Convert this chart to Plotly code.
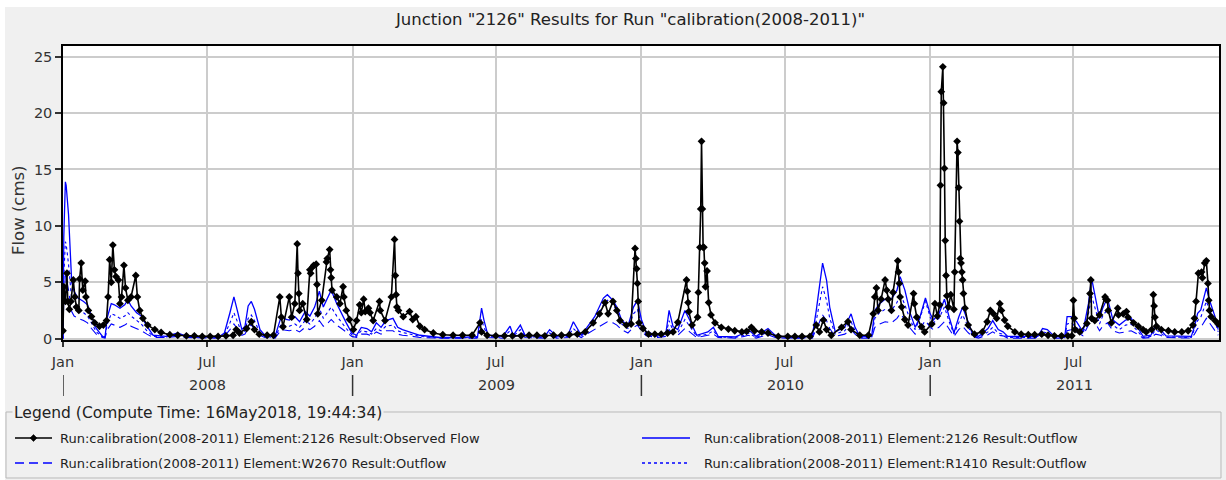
import plotly.graph_objects as go

# ---------------- data ----------------
obs_dates = [
    "2008-01-01", "2008-01-02", "2008-01-04", "2008-01-06", "2008-01-07", "2008-01-09", "2008-01-11",
    "2008-01-14", "2008-01-16", "2008-01-18", "2008-01-21", "2008-01-22", "2008-01-24", "2008-01-26",
    "2008-01-29", "2008-01-30", "2008-02-02", "2008-02-06", "2008-02-10", "2008-02-16", "2008-02-21",
    "2008-02-25", "2008-02-27", "2008-02-29", "2008-03-02", "2008-03-04", "2008-03-06", "2008-03-08",
    "2008-03-11", "2008-03-13", "2008-03-15", "2008-03-18", "2008-03-20", "2008-03-23", "2008-03-27",
    "2008-04-02", "2008-04-04", "2008-04-07", "2008-04-11", "2008-04-17", "2008-04-26", "2008-05-04",
    "2008-05-15", "2008-05-25", "2008-06-05", "2008-06-15", "2008-06-25", "2008-07-05", "2008-07-15",
    "2008-07-25", "2008-08-03", "2008-08-07", "2008-08-11", "2008-08-20", "2008-08-26", "2008-08-30",
    "2008-09-05", "2008-09-15", "2008-09-23", "2008-10-01", "2008-10-03", "2008-10-05", "2008-10-13",
    "2008-10-16", "2008-10-20", "2008-10-23", "2008-10-24", "2008-10-25", "2008-10-26", "2008-10-30",
    "2008-11-04", "2008-11-08", "2008-11-09", "2008-11-12", "2008-11-13", "2008-11-16", "2008-11-17",
    "2008-11-18", "2008-11-23", "2008-11-29", "2008-11-30", "2008-12-03", "2008-12-04", "2008-12-05",
    "2008-12-06", "2008-12-12", "2008-12-16", "2008-12-20", "2008-12-21", "2008-12-24", "2008-12-28",
    "2009-01-02", "2009-01-06", "2009-01-10", "2009-01-12", "2009-01-15", "2009-01-17", "2009-01-21",
    "2009-01-23", "2009-01-27", "2009-02-04", "2009-02-05", "2009-02-11", "2009-02-19", "2009-02-23",
    "2009-02-24", "2009-02-25", "2009-02-26", "2009-02-28", "2009-03-06", "2009-03-14", "2009-03-18",
    "2009-03-22", "2009-03-27", "2009-04-02", "2009-04-13", "2009-04-25", "2009-05-08", "2009-05-20",
    "2009-06-01", "2009-06-11", "2009-06-13", "2009-06-20", "2009-07-01", "2009-07-12", "2009-07-22",
    "2009-08-02", "2009-08-12", "2009-08-22", "2009-09-01", "2009-09-12", "2009-09-22", "2009-10-02",
    "2009-10-12", "2009-10-22", "2009-11-01", "2009-11-09", "2009-11-16", "2009-11-20", "2009-11-26",
    "2009-12-01", "2009-12-05", "2009-12-13", "2009-12-19", "2009-12-24", "2009-12-25", "2009-12-26",
    "2009-12-27", "2009-12-28", "2009-12-29", "2010-01-03", "2010-01-10", "2010-01-18", "2010-01-26",
    "2010-02-03", "2010-02-10", "2010-02-16", "2010-02-27", "2010-02-28", "2010-03-01", "2010-03-02",
    "2010-03-06", "2010-03-13", "2010-03-14", "2010-03-16", "2010-03-17", "2010-03-18", "2010-03-19",
    "2010-03-20", "2010-03-21", "2010-03-22", "2010-03-23", "2010-03-25", "2010-03-27", "2010-03-30",
    "2010-04-04", "2010-04-12", "2010-04-21", "2010-04-29", "2010-05-08", "2010-05-14", "2010-05-20",
    "2010-05-24", "2010-06-02", "2010-06-10", "2010-06-23", "2010-07-05", "2010-07-14", "2010-07-23",
    "2010-08-02", "2010-08-10", "2010-08-14", "2010-08-19", "2010-08-23", "2010-08-29", "2010-09-11",
    "2010-09-19", "2010-09-23", "2010-10-04", "2010-10-15", "2010-10-21", "2010-10-23", "2010-10-25",
    "2010-10-27", "2010-10-31", "2010-11-05", "2010-11-07", "2010-11-09", "2010-11-13", "2010-11-15",
    "2010-11-21", "2010-11-22", "2010-11-23", "2010-11-24", "2010-11-26", "2010-11-30", "2010-12-04",
    "2010-12-11", "2010-12-12", "2010-12-15", "2010-12-21", "2010-12-25", "2011-01-03", "2011-01-07",
    "2011-01-10", "2011-01-13", "2011-01-14", "2011-01-15", "2011-01-17", "2011-01-18", "2011-01-19",
    "2011-01-20", "2011-01-21", "2011-01-22", "2011-01-24", "2011-01-27", "2011-01-31", "2011-02-01",
    "2011-02-04", "2011-02-05", "2011-02-06", "2011-02-07", "2011-02-08", "2011-02-09", "2011-02-10",
    "2011-02-11", "2011-02-12", "2011-02-14", "2011-02-18", "2011-02-26", "2011-03-08", "2011-03-14",
    "2011-03-18", "2011-03-22", "2011-03-26", "2011-03-30", "2011-04-01", "2011-04-05", "2011-04-09",
    "2011-04-18", "2011-04-26", "2011-05-05", "2011-05-13", "2011-05-22", "2011-05-30", "2011-06-07",
    "2011-06-16", "2011-06-24", "2011-06-29", "2011-07-01", "2011-07-02", "2011-07-03", "2011-07-09",
    "2011-07-18", "2011-07-22", "2011-07-23", "2011-07-24", "2011-07-28", "2011-08-03", "2011-08-10",
    "2011-08-11", "2011-08-13", "2011-08-14", "2011-08-18", "2011-08-26", "2011-08-27", "2011-09-02",
    "2011-09-06", "2011-09-08", "2011-09-15", "2011-09-21", "2011-09-27", "2011-10-01", "2011-10-08",
    "2011-10-10", "2011-10-11", "2011-10-12", "2011-10-14", "2011-10-20", "2011-10-29", "2011-11-06",
    "2011-11-15", "2011-11-23", "2011-11-29", "2011-12-01", "2011-12-03", "2011-12-06", "2011-12-10",
    "2011-12-11", "2011-12-14", "2011-12-16", "2011-12-18", "2011-12-19", "2011-12-20", "2011-12-22",
    "2011-12-27", "2011-12-31",
]
obs_flow = [
    0.7, 4.6, 3.3, 5.8, 3.3, 2.6, 3.3,
    5.2, 3.7, 2.8, 2.5, 5.3, 6.7, 4.3,
    5.1, 3.7, 2.5, 1.96, 1.4, 1.1, 1.2,
    1.6, 3.7, 7.0, 5.0, 8.3, 6.1, 5.5,
    5.2, 3.1, 3.7, 6.5, 4.5, 3.4, 3.7,
    5.6, 3.7, 2.5, 1.8, 1.2, 0.8, 0.55,
    0.35, 0.3, 0.25, 0.25, 0.2, 0.2, 0.2,
    0.25, 0.3, 0.8, 0.5, 0.9, 1.5, 0.8,
    0.4, 0.3, 0.3, 3.7, 1.9, 1.05, 3.7,
    1.9, 3.1, 8.4, 5.8, 4.0, 2.5, 3.1,
    1.7, 6.1, 5.8, 6.4, 6.5, 6.6, 4.8,
    2.2, 3.4, 6.8, 7.1, 7.9, 6.1, 5.4,
    4.3, 3.7, 3.1, 4.6, 3.7, 2.5, 1.7,
    0.8, 1.6, 3.0, 2.3, 3.5, 2.4, 2.7,
    2.3, 1.6, 3.3, 2.5, 1.6, 3.7, 8.8,
    5.6, 3.9, 2.8, 2.5, 1.95, 2.4, 1.7,
    1.95, 1.1, 0.8, 0.5, 0.35, 0.3, 0.3,
    0.3, 1.4, 0.6, 0.3, 0.25, 0.25, 0.25,
    0.25, 0.3, 0.3, 0.25, 0.3, 0.3, 0.35,
    0.4, 0.6, 1.4, 2.2, 3.2, 2.2, 3.3,
    2.5, 1.6, 1.2, 1.3, 8.0, 7.1, 6.2,
    4.9, 3.3, 1.4, 0.9, 0.4, 0.4, 0.4,
    0.5, 0.6, 1.45, 5.2, 4.2, 3.2, 2.4,
    1.2, 1.9, 4.1, 8.1, 11.5, 17.5, 11.5,
    8.1, 8.1, 6.7, 4.6, 6.0, 3.2, 2.1,
    1.4, 1.0, 0.85, 0.7, 0.6, 0.65, 1.0,
    0.7, 0.6, 0.5, 0.2, 0.2, 0.2, 0.2,
    0.2, 1.2, 0.6, 1.65, 0.8, 0.3, 1.0,
    1.5, 0.8, 0.3, 0.3, 2.2, 3.7, 4.5,
    2.5, 3.5, 5.2, 4.3, 3.5, 2.5, 4.1,
    6.9, 5.9, 4.9, 3.7, 2.8, 1.7, 1.2,
    4.0, 3.1, 1.9, 1.05, 0.6, 1.3, 3.1,
    2.0, 3.0, 13.6, 21.9, 24.1, 20.9, 15.1,
    8.7, 5.6, 3.8, 2.8, 3.9, 2.6, 5.9,
    17.5, 16.5, 13.4, 10.4, 7.1, 6.7, 5.9,
    5.2, 4.0, 2.7, 1.2, 0.4, 0.6, 1.5,
    2.5, 2.2, 1.8, 3.1, 2.5, 1.65, 1.1,
    0.6, 0.4, 0.35, 0.35, 0.4, 0.3, 0.25,
    0.25, 0.25, 0.25, 3.4, 1.8, 0.8, 0.6,
    1.35, 4.0, 5.2, 1.8, 1.6, 2.1, 3.7,
    3.5, 3.4, 2.5, 1.4, 2.7, 2.1, 2.2,
    2.4, 1.9, 1.4, 1.1, 0.8, 0.6, 0.8,
    3.9, 2.9, 1.9, 1.1, 0.8, 0.7, 0.6,
    0.6, 0.7, 1.2, 1.8, 3.3, 5.8, 5.9,
    5.4, 6.7, 6.9, 4.9, 3.4, 2.5, 1.95,
    1.6, 1.3,
]

sim_dates = [
    "2008-01-01", "2008-01-02", "2008-01-04", "2008-01-05", "2008-01-08", "2008-01-10", "2008-01-12",
    "2008-01-15", "2008-01-20", "2008-01-27", "2008-02-01", "2008-02-06", "2008-02-12", "2008-02-20",
    "2008-02-23", "2008-02-26", "2008-03-02", "2008-03-06", "2008-03-13", "2008-03-19", "2008-03-23",
    "2008-03-27", "2008-04-03", "2008-04-09", "2008-04-16", "2008-04-24", "2008-05-10", "2008-05-25",
    "2008-06-05", "2008-06-25", "2008-07-10", "2008-07-19", "2008-07-23", "2008-07-30", "2008-08-04",
    "2008-08-09", "2008-08-14", "2008-08-18", "2008-08-22", "2008-08-26", "2008-08-30", "2008-09-06",
    "2008-09-12", "2008-09-25", "2008-10-03", "2008-10-09", "2008-10-13", "2008-10-20", "2008-10-26",
    "2008-11-02", "2008-11-08", "2008-11-14", "2008-11-20", "2008-11-25", "2008-12-01", "2008-12-05",
    "2008-12-12", "2008-12-18", "2008-12-24", "2008-12-31", "2009-01-06", "2009-01-12", "2009-01-19",
    "2009-01-25", "2009-01-31", "2009-02-06", "2009-02-12", "2009-02-21", "2009-02-27", "2009-03-05",
    "2009-03-14", "2009-03-27", "2009-04-21", "2009-05-20", "2009-06-08", "2009-06-13", "2009-06-16",
    "2009-06-21", "2009-07-10", "2009-07-19", "2009-07-23", "2009-08-01", "2009-08-07", "2009-09-01",
    "2009-09-07", "2009-09-16", "2009-09-30", "2009-10-07", "2009-10-17", "2009-11-03", "2009-11-14",
    "2009-11-19", "2009-11-26", "2009-12-01", "2009-12-07", "2009-12-15", "2009-12-22", "2009-12-27",
    "2010-01-01", "2010-01-07", "2010-01-22", "2010-02-01", "2010-02-05", "2010-02-10", "2010-02-16",
    "2010-02-25", "2010-03-03", "2010-03-12", "2010-03-26", "2010-04-02", "2010-04-08", "2010-04-30",
    "2010-05-11", "2010-05-16", "2010-05-26", "2010-06-10", "2010-06-19", "2010-07-05", "2010-08-05",
    "2010-08-10", "2010-08-18", "2010-08-23", "2010-08-27", "2010-09-03", "2010-09-15", "2010-09-23",
    "2010-09-28", "2010-10-04", "2010-10-19", "2010-10-23", "2010-10-29", "2010-11-05", "2010-11-13",
    "2010-11-20", "2010-11-24", "2010-11-30", "2010-12-07", "2010-12-13", "2010-12-19", "2010-12-26",
    "2011-01-01", "2011-01-05", "2011-01-12", "2011-01-19", "2011-01-25", "2011-01-31", "2011-02-06",
    "2011-02-11", "2011-02-17", "2011-02-23", "2011-03-03", "2011-03-15", "2011-03-21", "2011-03-28",
    "2011-04-03", "2011-04-09", "2011-05-17", "2011-05-23", "2011-05-29", "2011-06-07", "2011-06-20",
    "2011-06-23", "2011-06-28", "2011-07-05", "2011-07-13", "2011-07-20", "2011-07-24", "2011-07-28",
    "2011-08-03", "2011-08-07", "2011-08-13", "2011-08-20", "2011-08-28", "2011-09-05", "2011-09-12",
    "2011-09-21", "2011-09-27", "2011-10-07", "2011-10-13", "2011-10-19", "2011-10-26", "2011-11-27",
    "2011-12-01", "2011-12-05", "2011-12-09", "2011-12-16", "2011-12-20", "2011-12-27", "2011-12-31",
]
outflow_2126 = [
    0.0, 9.0, 13.9, 13.6, 11.0, 7.5, 5.0,
    4.2, 3.6, 3.3, 3.0, 2.0, 0.9, 0.2,
    0.1, 1.9, 3.1, 3.0, 2.7, 3.0, 3.45,
    2.9, 2.3, 2.0, 1.1, 0.3, 0.2, 0.5,
    0.2, 0.15, 0.15, 0.3, 0.5, 2.3, 3.7,
    2.3, 0.8, 1.1, 2.9, 3.3, 2.6, 0.8,
    0.3, 0.2, 2.0, 1.7, 1.65, 1.95, 1.5,
    2.4, 2.0, 2.8, 4.2, 2.8, 3.7, 4.3,
    3.1, 2.2, 1.4, 0.5, 0.3, 1.0, 0.9,
    0.6, 1.4, 1.0, 1.6, 1.8, 1.0, 0.8,
    0.6, 0.3, 0.1, 0.1, 0.2, 2.7, 1.65,
    0.3, 0.2, 1.1, 0.3, 1.2, 0.3, 0.2,
    0.8, 0.2, 0.3, 1.5, 0.3, 1.95, 3.6,
    3.9, 3.4, 2.8, 1.66, 1.1, 2.8, 3.4,
    1.7, 0.6, 0.3, 0.5, 2.5, 1.07, 0.8,
    2.5, 1.66, 0.3, 0.6, 1.0, 0.2, 0.15,
    0.5, 0.8, 0.2, 0.9, 0.3, 0.1, 0.2,
    2.5, 6.7, 5.2, 2.8, 0.6, 1.0, 2.2,
    1.0, 0.2, 0.2, 2.5, 3.1, 3.5, 3.5,
    4.3, 5.5, 4.3, 2.2, 1.0, 1.9, 3.6,
    2.2, 1.65, 2.2, 3.5, 1.9, 0.5, 1.9,
    2.8, 1.65, 0.5, 0.2, 0.9, 1.6, 0.8,
    0.6, 0.2, 0.2, 0.9, 0.8, 0.2, 0.1,
    1.95, 1.95, 1.5, 0.6, 3.1, 5.35, 3.9,
    1.8, 2.7, 3.6, 1.65, 1.2, 1.65, 1.8,
    0.9, 0.2, 0.3, 1.2, 0.8, 0.25, 0.2,
    1.07, 2.25, 2.55, 4.5, 3.4, 1.95, 0.8,
]
outflow_r1410 = [
    0.0, 5.5, 8.6, 8.4, 6.6, 4.8, 3.4,
    2.9, 2.5, 2.3, 2.0, 1.4, 0.6, 0.15,
    0.1, 1.3, 2.2, 2.1, 1.8, 2.0, 2.3,
    2.0, 1.6, 1.3, 0.7, 0.2, 0.15, 0.35,
    0.15, 0.1, 0.1, 0.2, 0.3, 1.4, 2.3,
    1.4, 0.5, 0.7, 1.8, 2.1, 1.6, 0.5,
    0.2, 0.1, 1.3, 1.1, 1.1, 1.3, 1.0,
    1.6, 1.3, 1.8, 2.7, 1.8, 2.4, 2.8,
    2.0, 1.4, 0.9, 0.35, 0.2, 0.7, 0.6,
    0.4, 0.9, 0.7, 1.1, 1.2, 0.7, 0.55,
    0.4, 0.2, 0.07, 0.07, 0.1, 1.7, 1.0,
    0.2, 0.1, 0.7, 0.2, 0.8, 0.2, 0.1,
    0.5, 0.1, 0.2, 0.9, 0.2, 1.5, 3.0,
    3.4, 3.1, 2.4, 1.3, 0.9, 2.2, 2.6,
    1.2, 0.4, 0.2, 0.35, 1.6, 0.7, 0.5,
    1.7, 1.1, 0.2, 0.4, 0.7, 0.15, 0.1,
    0.3, 0.5, 0.1, 0.6, 0.2, 0.05, 0.1,
    1.6, 4.6, 3.4, 1.8, 0.4, 0.7, 1.5,
    0.7, 0.1, 0.1, 1.8, 2.3, 2.6, 2.5,
    3.2, 4.0, 3.0, 1.6, 0.8, 1.8, 3.3,
    1.9, 1.4, 1.8, 2.8, 1.5, 0.4, 1.4,
    2.1, 1.2, 0.3, 0.1, 0.6, 1.0, 0.5,
    0.4, 0.1, 0.1, 0.6, 0.5, 0.1, 0.05,
    1.3, 1.4, 1.0, 0.4, 2.2, 3.8, 2.8,
    1.3, 2.0, 2.6, 1.2, 0.8, 1.2, 1.3,
    0.6, 0.1, 0.2, 0.8, 0.5, 0.15, 0.1,
    0.8, 1.6, 1.9, 3.3, 2.6, 1.5, 0.6,
]
outflow_w2670 = [
    0.0, 3.5, 5.6, 5.4, 4.3, 3.2, 2.4,
    2.0, 1.8, 1.6, 1.4, 0.9, 0.4, 0.1,
    0.05, 0.8, 1.3, 1.2, 1.0, 1.2, 1.4,
    1.1, 0.9, 0.7, 0.4, 0.1, 0.1, 0.2,
    0.1, 0.05, 0.05, 0.1, 0.2, 0.8, 1.3,
    0.8, 0.3, 0.4, 1.0, 1.2, 0.9, 0.3,
    0.1, 0.05, 0.8, 0.7, 0.7, 0.8, 0.6,
    1.0, 0.8, 1.1, 1.6, 1.1, 1.4, 1.7,
    1.2, 0.9, 0.6, 0.2, 0.1, 0.4, 0.4,
    0.25, 0.6, 0.4, 0.7, 0.7, 0.4, 0.3,
    0.25, 0.1, 0.05, 0.05, 0.05, 0.9, 0.6,
    0.1, 0.05, 0.4, 0.1, 0.4, 0.1, 0.05,
    0.3, 0.05, 0.1, 0.5, 0.1, 0.8, 1.3,
    1.5, 1.4, 1.2, 0.8, 0.5, 1.0, 1.2,
    0.7, 0.25, 0.1, 0.2, 0.8, 0.4, 0.3,
    0.9, 0.6, 0.1, 0.3, 0.4, 0.1, 0.05,
    0.2, 0.3, 0.05, 0.35, 0.1, 0.03, 0.05,
    0.8, 2.1, 1.6, 0.9, 0.2, 0.4, 0.8,
    0.4, 0.05, 0.05, 1.0, 1.3, 1.5, 1.4,
    1.8, 2.2, 1.7, 0.9, 0.4, 0.9, 1.6,
    1.0, 0.8, 1.0, 1.5, 0.8, 0.2, 0.8,
    1.1, 0.6, 0.2, 0.05, 0.35, 0.6, 0.3,
    0.25, 0.05, 0.05, 0.3, 0.3, 0.05, 0.03,
    0.7, 0.8, 0.6, 0.25, 1.2, 2.0, 1.5,
    0.7, 1.1, 1.4, 0.7, 0.5, 0.6, 0.7,
    0.35, 0.05, 0.1, 0.4, 0.3, 0.1, 0.05,
    0.4, 0.9, 1.0, 1.8, 1.4, 0.8, 0.3,
]

x_tick_vals = ["2008-01-01", "2008-07-01", "2009-01-01", "2009-07-01",
               "2010-01-01", "2010-07-01", "2011-01-01", "2011-07-01"]
x_tick_text = ["Jan", "Jul", "Jan", "Jul", "Jan", "Jul", "Jan", "Jul"]
years = ["2008", "2009", "2010", "2011"]
y_tick_vals = [0, 5, 10, 15, 20, 25]

title_text = 'Junction "2126" Results for Run "calibration(2008-2011)"'
legend_title = "Legend (Compute Time: 16May2018, 19:44:34)"
names = [
    "Run:calibration(2008-2011) Element:2126 Result:Observed Flow",
    "Run:calibration(2008-2011) Element:2126 Result:Outflow",
    "Run:calibration(2008-2011) Element:W2670 Result:Outflow",
    "Run:calibration(2008-2011) Element:R1410 Result:Outflow",
]

# ---------------- figure ----------------
W, H = 1226, 480
L, R, T, B = 63, 7, 46, 140
PW, PH = W - L - R, H - T - B


def pxx(x):
    return (x - L) / PW


def pyy(y):
    return (H - B - y) / PH


BLUE = "#0000ff"
FONT = "DejaVu Sans"
TXT = "#333333"

fig = go.Figure()
fig.add_trace(go.Scatter(x=sim_dates, y=outflow_r1410, mode="lines", name=names[3],
                         line=dict(color=BLUE, width=1.1, dash="3px,3px")))
fig.add_trace(go.Scatter(x=sim_dates, y=outflow_w2670, mode="lines", name=names[2],
                         line=dict(color=BLUE, width=1.1, dash="9px,5px")))
fig.add_trace(go.Scatter(x=sim_dates, y=outflow_2126, mode="lines", name=names[1],
                         line=dict(color=BLUE, width=1.3)))
fig.add_trace(go.Scatter(x=obs_dates, y=obs_flow, mode="lines+markers", name=names[0],
                         line=dict(color="black", width=1.6),
                         marker=dict(symbol="diamond", size=6, color="black")))

shapes = []
annotations = []

# white outer strips (top / left) around the gray panel
shapes.append(dict(type="rect", xref="paper", yref="paper", x0=pxx(0), x1=pxx(W), y0=pyy(0), y1=pyy(7),
                   fillcolor="white", line=dict(width=0), layer="below"))
shapes.append(dict(type="rect", xref="paper", yref="paper", x0=pxx(0), x1=pxx(5), y0=pyy(0), y1=pyy(H),
                   fillcolor="white", line=dict(width=0), layer="below"))

# year boundary marks and year labels (second axis row)
for yr in years:
    shapes.append(dict(type="line", xref="x", yref="paper", x0=f"{yr}-01-01", x1=f"{yr}-01-01",
                       y0=pyy(375), y1=pyy(396), line=dict(color=TXT, width=1.5)))
    annotations.append(dict(xref="x", yref="paper", x=f"{yr}-07-02", y=pyy(385), text=yr,
                            showarrow=False, font=dict(family=FONT, size=14.5, color=TXT),
                            xanchor="center", yanchor="middle"))

# legend box (titled border)
shapes.append(dict(type="rect", xref="paper", yref="paper", x0=pxx(6), x1=pxx(1221), y0=pyy(478), y1=pyy(412),
                   line=dict(color="#b9b9b9", width=1), fillcolor="rgba(0,0,0,0)"))
annotations.append(dict(xref="paper", yref="paper", x=pxx(12), y=pyy(413), text=legend_title,
                        showarrow=False, xanchor="left", yanchor="middle", bgcolor="#f0f0f0",
                        borderpad=1, font=dict(family=FONT, size=15.5, color="#222222")))

# legend rows: (sample x0, x1, text x, row y, dash, marker, colour, label)
rows = [
    (15, 52, 58, 438, "solid", True, "black", names[0]),
    (642, 690, 702, 438, "solid", False, BLUE, names[1]),
    (15, 52, 58, 463, "9px,5px", False, BLUE, names[2]),
    (642, 690, 702, 463, "3px,3px", False, BLUE, names[3]),
]
for x0, x1, tx, ry, dash, mk, col, nm in rows:
    shapes.append(dict(type="line", xref="paper", yref="paper", x0=pxx(x0), x1=pxx(x1), y0=pyy(ry), y1=pyy(ry),
                       line=dict(color=col, width=1.3, dash=dash)))
    if mk:
        cx = (x0 + x1) / 2
        path = (f"M {pxx(cx)},{pyy(ry - 3.5)} L {pxx(cx + 3.5)},{pyy(ry)} "
                f"L {pxx(cx)},{pyy(ry + 3.5)} L {pxx(cx - 3.5)},{pyy(ry)} Z")
        shapes.append(dict(type="path", xref="paper", yref="paper", path=path,
                           fillcolor="black", line=dict(color="black", width=0.5)))
    annotations.append(dict(xref="paper", yref="paper", x=pxx(tx), y=pyy(ry), text=nm, showarrow=False,
                            xanchor="left", yanchor="middle", font=dict(family=FONT, size=13, color="#222222")))

# y-axis title
annotations.append(dict(xref="paper", yref="paper", x=pxx(18), y=pyy(210), text="Flow (cms)", textangle=-90,
                        showarrow=False, xanchor="center", yanchor="middle",
                        font=dict(family=FONT, size=16.5, color=TXT)))

# chart title
annotations.append(dict(xref="paper", yref="paper", x=pxx(630), y=pyy(20), text=title_text, showarrow=False,
                        xanchor="center", yanchor="middle", font=dict(family=FONT, size=16.5, color="#222222")))

fig.update_layout(
    width=W, height=H,
    margin=dict(l=L, r=R, t=T, b=B, autoexpand=False),
    paper_bgcolor="#f0f0f0", plot_bgcolor="white",
    showlegend=False,
    font=dict(family=FONT, size=14.5, color=TXT),
    shapes=shapes, annotations=annotations,
    xaxis=dict(type="date", range=["2008-01-01", "2012-01-01"], tickvals=x_tick_vals, ticktext=x_tick_text,
               ticks="outside", ticklen=5, tickwidth=1.5, tickcolor=TXT,
               showgrid=True, gridcolor="#cccccc", gridwidth=1.5,
               showline=True, linecolor="black", linewidth=1.5, mirror=True,
               zeroline=False, automargin=False, ticklabelstandoff=3,
               tickfont=dict(family=FONT, size=14.5, color=TXT)),
    yaxis=dict(range=[-0.12, 25.95], tickvals=y_tick_vals,
               ticks="outside", ticklen=6, tickwidth=1.5, tickcolor=TXT,
               showgrid=True, gridcolor="#cccccc", gridwidth=1.5,
               showline=True, linecolor="black", linewidth=1.5, mirror=True,
               zeroline=False, automargin=False,
               tickfont=dict(family=FONT, size=14.5, color=TXT)),
)

fig.write_html("out.html", config={"displayModeBar": False},
               post_script="document.body.style.margin='0px';document.body.style.overflow='hidden';")
